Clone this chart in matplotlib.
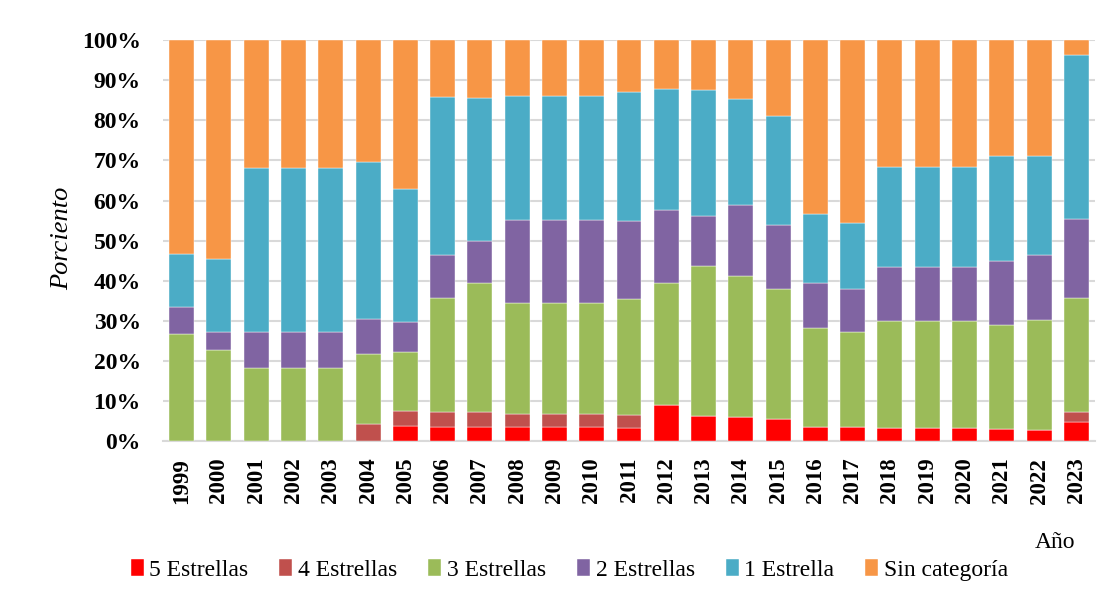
import matplotlib
matplotlib.use("Agg")
import matplotlib.pyplot as plt
import numpy as np

years = [str(y) for y in range(1999, 2024)]
s5 = [0, 0, 0, 0, 0, 0, 3.7, 3.6, 3.6, 3.4, 3.4, 3.4, 3.2, 9.1, 6.25, 5.9, 5.4, 3.5, 3.5, 3.3, 3.3, 3.3, 2.9, 2.8, 4.7]
s4 = [0, 0, 0, 0, 0, 4.3, 3.7, 3.6, 3.6, 3.4, 3.4, 3.4, 3.2, 0, 0, 0, 0, 0, 0, 0, 0, 0, 0, 0, 2.5]
s3 = [26.7, 22.7, 18.2, 18.2, 18.2, 17.4, 14.8, 28.6, 32.1, 27.6, 27.6, 27.6, 29.0, 30.3, 37.5, 35.3, 32.4, 24.7, 23.7, 26.7, 26.7, 26.7, 26.1, 27.5, 28.4]
s2 = [6.7, 4.5, 9.1, 9.1, 9.1, 8.7, 7.4, 10.7, 10.7, 20.7, 20.7, 20.7, 19.4, 18.2, 12.5, 17.6, 16.2, 11.2, 10.8, 13.3, 13.3, 13.3, 15.9, 16.0, 19.7]
s1 = [13.3, 18.2, 40.9, 40.9, 40.9, 39.1, 33.3, 39.3, 35.7, 31.0, 31.0, 31.0, 32.3, 30.3, 31.25, 26.5, 27.0, 17.2, 16.4, 25.0, 25.0, 25.0, 26.1, 24.7, 41.0]
sin = [53.3, 54.6, 31.8, 31.8, 31.8, 30.5, 37.1, 14.2, 14.3, 13.9, 13.9, 13.9, 12.9, 12.1, 12.5, 14.7, 19.0, 43.4, 45.6, 31.7, 31.7, 31.7, 29.0, 29.0, 3.7]

series_names = ["5 Estrellas", "4 Estrellas", "3 Estrellas", "2 Estrellas", "1 Estrella", "Sin categoría"]
colors = ["#FF0000", "#C0504D", "#9BBB59", "#8064A2", "#4BACC6", "#F79646"]

plt.rcParams['font.family'] = ['Liberation Serif', 'DejaVu Serif']

fig = plt.figure(figsize=(11.12, 6.0), dpi=100)
ax = fig.add_axes([0.1466, 0.265, 0.8381, 0.668])

x = np.arange(len(years))
bottom = np.zeros(len(years))
for name, vals, c in zip(series_names, [s5, s4, s3, s2, s1, sin], colors):
    v = np.array(vals, dtype=float)
    ax.bar(x, v, bottom=bottom, width=0.67, color=c, label=name,
           edgecolor="white", linewidth=0.3, zorder=3)
    bottom += v

ax.set_xlim(-0.5, len(years) - 0.5)
ax.set_ylim(0, 100)
ax.set_yticks(np.arange(0, 101, 10))
ax.set_yticklabels([f"{t}%" for t in range(0, 101, 10)], fontsize=17, fontweight="bold")
ax.set_xticks(x)
ax.set_xticklabels(years, rotation=90, fontsize=16.5, fontweight="bold")
ax.tick_params(axis="y", length=0, pad=16)
ax.tick_params(axis="x", length=0, pad=12)
ax.yaxis.grid(True, color="#d9d9d9", linewidth=1.5, zorder=0)
ax.set_axisbelow(True)
for s in ["top", "right", "left"]:
    ax.spines[s].set_visible(False)
ax.spines["bottom"].set_color("#d9d9d9")
ax.spines["bottom"].set_linewidth(1.5)

fig.text(0.056, 0.603, "Porciento", rotation=90, fontsize=19, fontstyle="italic",
         ha="center", va="center")
fig.text(0.949, 0.095, "Año", fontsize=17, ha="center", va="center")

handles, labels = ax.get_legend_handles_labels()
fig.legend(handles, labels, loc="center", bbox_to_anchor=(0.512, 0.05), ncol=6,
           frameon=False, fontsize=17, handlelength=0.55, handleheight=0.75,
           handletextpad=0.25, columnspacing=1.3)

fig.savefig("out.png", dpi=100)
